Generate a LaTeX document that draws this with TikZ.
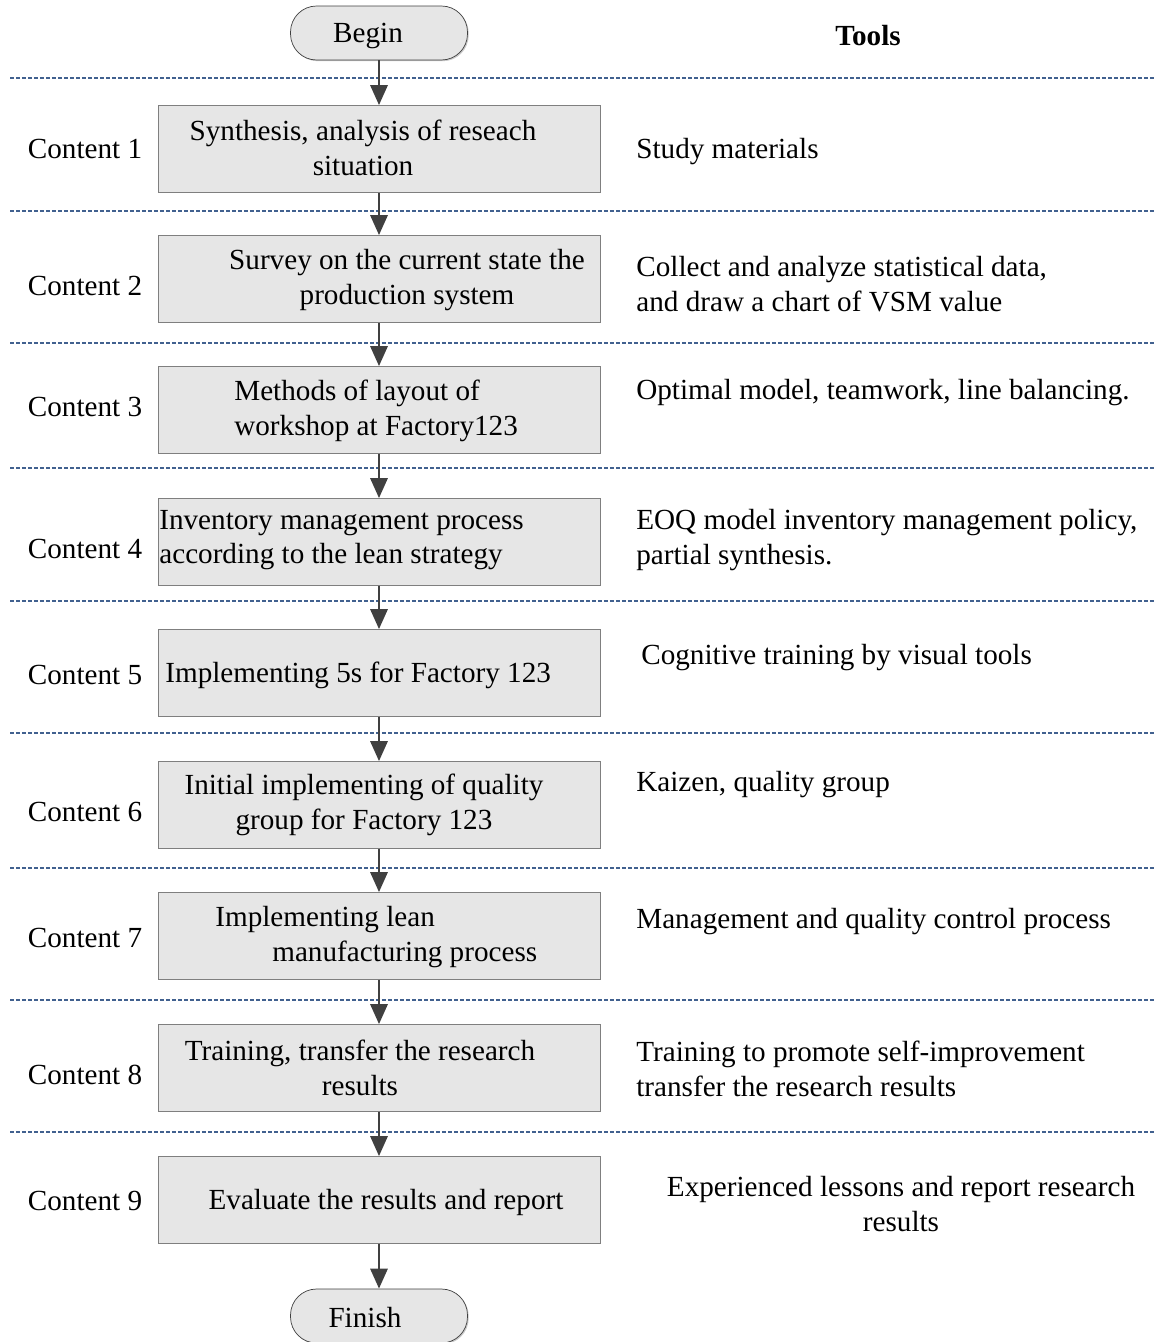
\documentclass[tikz,border=0pt]{standalone}
\usepackage{fontspec}
\setmainfont{Liberation Serif}
\usetikzlibrary{arrows.meta,shadows}
\definecolor{boxgray}{HTML}{E6E6E6}
\definecolor{edgegray}{HTML}{7F7F7F}
\definecolor{arrowgray}{HTML}{404040}
\definecolor{rulecolor}{HTML}{41618F}

\begin{document}
\begin{tikzpicture}[x=0.02cm,y=-0.02cm,
  every node/.style={font=\fontsize{16.6}{19.6}\selectfont},
  terminal/.style={draw=arrowgray,fill=boxgray,rounded corners=0.52cm,
    minimum width=3.54cm,minimum height=1.08cm,inner sep=0pt,
    drop shadow={shadow xshift=0.7pt,shadow yshift=-0.7pt,fill=black!35,opacity=0.6}},
  stepbox/.style={draw=edgegray,fill=boxgray,minimum width=8.84cm,
    minimum height=1.74cm,inner sep=0pt},
  txt/.style={inner sep=0pt,align=center,yshift=-1.7pt},
  ltxt/.style={inner sep=0pt,align=left,anchor=west,yshift=-1.7pt},
  arr/.style={draw=arrowgray,line width=1.7pt,-{Triangle[length=4mm,width=3.4mm]}},
  sep/.style={draw=rulecolor,line width=0.8pt,dash pattern=on 0.8mm off 0.4mm}]
  \useasboundingbox (0,0) rectangle (1154,1342);

  \draw[sep] (10,78) -- (1154,78);
  \draw[sep] (10,211) -- (1154,211);
  \draw[sep] (10,343) -- (1154,343);
  \draw[sep] (10,468) -- (1154,468);
  \draw[sep] (10,601) -- (1154,601);
  \draw[sep] (10,733) -- (1154,733);
  \draw[sep] (10,868) -- (1154,868);
  \draw[sep] (10,1000) -- (1154,1000);
  \draw[sep] (10,1132) -- (1154,1132);

  \node[terminal] (begin) at (379,33) {};
  \node[stepbox] (c1) at (379,149) {};
  \node[stepbox] (c2) at (379,279) {};
  \node[stepbox] (c3) at (379,410) {};
  \node[stepbox] (c4) at (379,542) {};
  \node[stepbox] (c5) at (379,673) {};
  \node[stepbox] (c6) at (379,805) {};
  \node[stepbox] (c7) at (379,936) {};
  \node[stepbox] (c8) at (379,1068) {};
  \node[stepbox] (c9) at (379,1200) {};
  \node[terminal] (finish) at (379,1316) {};

  \node[txt] (begintext) at (368,33) {Begin};
  \node[txt] (t1) at (363,145) {Synthesis, analysis of reseach\\situation};
  \node[txt] (t2) at (407,277) {Survey on the current state the\\production system};
  \node[ltxt] (t3) at (234,408) {Methods of layout of\\workshop at Factory123};
  \node[ltxt] (t4) at (159,537) {Inventory management process\\according to the lean strategy};
  \node[ltxt] (t5) at (165,672) {Implementing 5s for Factory 123};
  \node[txt] (t6) at (364,802) {Initial implementing of quality\\group for Factory 123};
  \node[ltxt] (t7) at (215,934) {Implementing lean\\\hspace*{1.14cm}manufacturing process};
  \node[txt] (t8) at (360,1065) {Training, transfer the research\\results};
  \node[txt] (t9) at (386,1199) {Evaluate the results and report};
  \node[txt] (finishtext) at (365,1315) {Finish};

  \node[txt] (l1) at (85,146) {Content 1};
  \node[txt] (l2) at (85,283) {Content 2};
  \node[txt] (l3) at (85,404) {Content 3};
  \node[txt] (l4) at (85,546) {Content 4};
  \node[txt] (l5) at (85,672) {Content 5};
  \node[txt] (l6) at (85,809) {Content 6};
  \node[txt] (l7) at (85,935) {Content 7};
  \node[txt] (l8) at (85,1072) {Content 8};
  \node[txt] (l9) at (85,1198) {Content 9};

  \node[txt,font=\fontsize{16.6}{19.6}\selectfont\bfseries] (tools) at (868,33) {Tools};
  \node[ltxt] (tool1) at (636,149) {Study materials};
  \node[ltxt] (tool2) at (636,281) {Collect and analyze statistical data,\\and draw a chart of VSM value};
  \node[ltxt] (tool3) at (636,390) {Optimal model, teamwork, line balancing.};
  \node[ltxt] (tool4) at (636,537) {EOQ model inventory management policy,\\partial synthesis.};
  \node[ltxt] (tool5) at (641,655) {Cognitive training by visual tools};
  \node[ltxt] (tool6) at (636,782) {Kaizen, quality group};
  \node[ltxt] (tool7) at (636,919) {Management and quality control process};
  \node[ltxt] (tool8) at (636,1066) {Training to promote self-improvement\\transfer the research results};
  \node[txt] (tool9) at (901,1201) {Experienced lessons and report research\\results};

  \draw[arr] (begin) -- (c1);
  \draw[arr] (c1) -- (c2);
  \draw[arr] (c2) -- (c3);
  \draw[arr] (c3) -- (c4);
  \draw[arr] (c4) -- (c5);
  \draw[arr] (c5) -- (c6);
  \draw[arr] (c6) -- (c7);
  \draw[arr] (c7) -- (c8);
  \draw[arr] (c8) -- (c9);
  \draw[arr] (c9) -- (finish);
\end{tikzpicture}
\end{document}
